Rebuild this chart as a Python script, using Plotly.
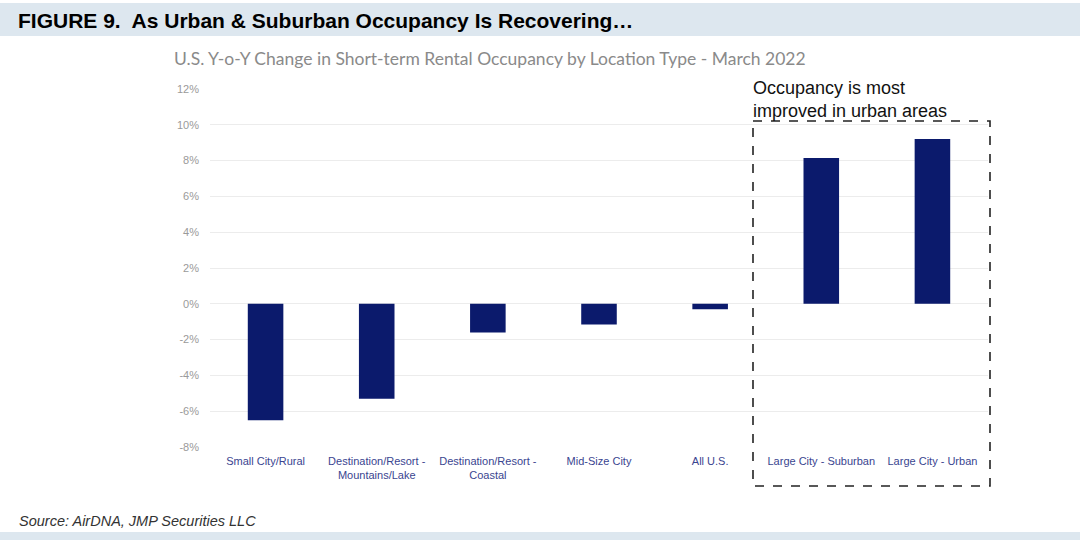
import plotly.graph_objects as go

categories = ["Small City/Rural", "Destination/Resort -<br>Mountains/Lake", "Destination/Resort -<br>Coastal",
              "Mid-Size City", "All U.S.", "Large City - Suburban", "Large City - Urban"]
values = [-6.5, -5.3, -1.6, -1.15, -0.3, 8.15, 9.2]
ytick_vals = [-8, -6, -4, -2, 0, 2, 4, 6, 8, 10, 12]
ytick_text = [f"{v}%" for v in ytick_vals]

W, H = 1080, 540
L, R, T, B = 210, 92, 89, 93
pw = W - L - R
ph = H - T - B

def px(x):
    return (x - L) / pw

def py(y):
    return 1 - (y - T) / ph

fig = go.Figure()
fig.add_trace(go.Bar(x=categories, y=values, marker=dict(color="#0b1a6c", line=dict(width=0)),
                     width=0.32, hoverinfo="skip"))

fig.update_layout(
    width=W, height=H,
    margin=dict(l=L, r=R, t=T, b=B),
    paper_bgcolor="white", plot_bgcolor="white",
    showlegend=False,
    font=dict(family="Liberation Sans, Arial, sans-serif"),
    xaxis=dict(tickfont=dict(size=11, color="#3a4590"), showgrid=False, zeroline=False,
               ticks="", showline=False, ticklabelstandoff=6),
    yaxis=dict(range=[-8, 12], tickvals=ytick_vals, ticktext=ytick_text,
               tickfont=dict(size=11, color="#9a9a9a"), showgrid=True, gridcolor="#ececec",
               gridwidth=1, zeroline=False, ticks="", showline=False, ticklabelstandoff=10),
)

shapes = [
    dict(type="rect", xref="paper", yref="paper", x0=px(0), x1=px(W), y0=py(3), y1=py(36),
         fillcolor="#dde7ef", line=dict(width=0), layer="below"),
    dict(type="rect", xref="paper", yref="paper", x0=px(0), x1=px(W), y0=py(532), y1=py(541),
         fillcolor="#dde7ef", line=dict(width=0), layer="below"),
    dict(type="rect", xref="paper", yref="paper", x0=px(753), x1=px(990), y0=py(121), y1=py(486),
         line=dict(color="#222222", width=1.6, dash="dash"), fillcolor="rgba(0,0,0,0)"),
]
fig.update_layout(shapes=shapes)

annotations = [
    dict(text="<b>FIGURE 9.  As Urban &amp; Suburban Occupancy Is Recovering…</b>", xref="paper", yref="paper",
         x=px(16), y=py(20), xanchor="left", yanchor="middle", showarrow=False,
         font=dict(size=21, color="#000000", family="Liberation Sans, Arial, sans-serif")),
    dict(text="U.S. Y-o-Y Change in Short-term Rental Occupancy by Location Type - March 2022",
         xref="paper", yref="paper", x=px(172), y=py(59), xanchor="left", yanchor="middle",
         showarrow=False, font=dict(size=17.5, color="#8a8a8a", family="Lato, sans-serif")),
    dict(text="Occupancy is most<br>improved in urban areas", xref="paper", yref="paper",
         x=px(751), y=py(76), xanchor="left", yanchor="top", align="left", showarrow=False,
         font=dict(size=18, color="#111111", family="Liberation Sans, Arial, sans-serif")),
    dict(text="<i>Source: AirDNA, JMP Securities LLC</i>", xref="paper", yref="paper",
         x=px(17), y=py(521), xanchor="left", yanchor="middle", showarrow=False,
         font=dict(size=14.5, color="#333333", family="Liberation Sans, Arial, sans-serif")),
]
fig.update_layout(annotations=annotations)

fig.write_html("out.html", config={"displayModeBar": False},
               post_script="document.body.style.margin='0';document.body.style.overflow='hidden';")
